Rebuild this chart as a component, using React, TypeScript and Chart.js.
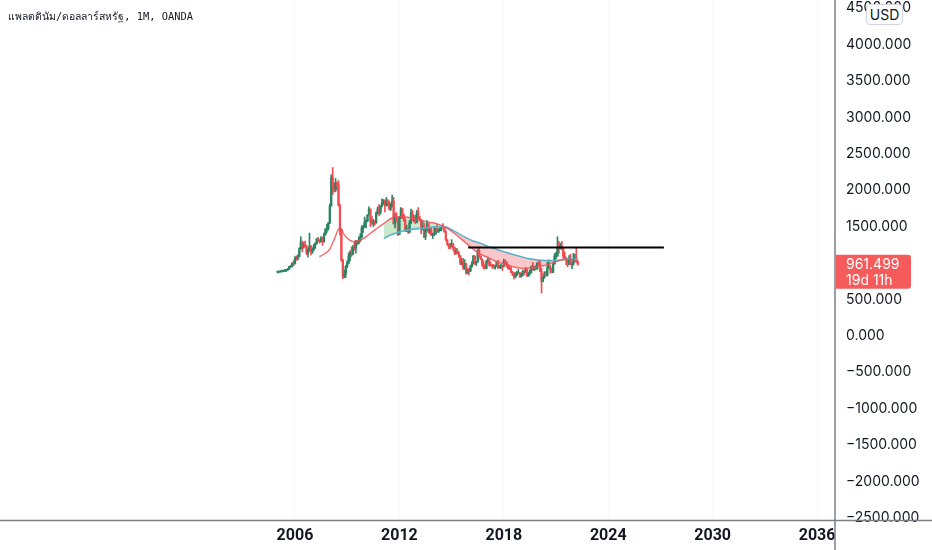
import React, { useEffect, useRef } from 'react';
import { Chart, registerables } from 'chart.js';

Chart.register(...registerables);

// ---------- text ----------
const TITLE = 'แพลตตินัม/ดอลลาร์สหรัฐ, 1M, OANDA';
const CURRENCY = 'USD';
const LAST_PRICE = 961.499;
const COUNTDOWN = '19d 11h';

// ---------- candles: monthly, Jan 2005 .. Apr 2022 ----------
const START_YEAR = 2005;
const FIRST_OPEN = 858;
const closes = [
  860, 864, 868, 868, 868, 882, 885, 898, 930, 932, 974, 965,
  1049, 1046, 1068, 1176, 1270, 1225, 1235, 1206, 1110, 1170, 1208, 1130,
  1165, 1222, 1242, 1307, 1290, 1275, 1320, 1272, 1375, 1442, 1460, 1530,
  1760, 2150, 2030, 1990, 2080, 2055, 1775, 1440, 1020, 800, 830, 930,
  980, 1075, 1125, 1100, 1195, 1185, 1260, 1255, 1290, 1335, 1455, 1470,
  1535, 1560, 1640, 1720, 1545, 1530, 1550, 1530, 1665, 1720, 1680, 1760,
  1800, 1830, 1770, 1830, 1805, 1725, 1785, 1830, 1520, 1610, 1560, 1370,
  1605, 1720, 1640, 1570, 1440, 1455, 1405, 1530, 1665, 1570, 1580, 1535,
  1680, 1590, 1578, 1470, 1480, 1340, 1430, 1520, 1410, 1450, 1360, 1365,
  1380, 1450, 1410, 1425, 1460, 1480, 1460, 1410, 1295, 1240, 1210, 1200,
  1240, 1190, 1135, 1140, 1110, 1080, 980, 1000, 910, 975, 840, 890,
  870, 930, 970, 1070, 975, 995, 1150, 1070, 1030, 960, 920, 905,
  995, 1030, 950, 945, 935, 920, 940, 990, 915, 920, 945, 935,
  1000, 980, 930, 905, 900, 850, 830, 790, 820, 845, 850, 795,
  820, 860, 850, 890, 800, 840, 875, 930, 890, 930, 900, 975,
  960, 860, 730, 785, 840, 810, 915, 930, 885, 850, 965, 1070,
  1075, 1195, 1185, 1205, 1180, 1070, 1050, 1010, 960, 1020, 960, 965,
  1020, 1050, 990, 961.499,
];
const highs = [
  870, 868, 876, 880, 880, 892, 892, 904, 932, 948, 985, 1010,
  1066, 1078, 1090, 1190, 1340, 1280, 1260, 1280, 1220, 1185, 1390, 1220,
  1190, 1240, 1260, 1320, 1330, 1300, 1340, 1330, 1390, 1450, 1510, 1535,
  1790, 2190, 2290, 2080, 2140, 2090, 2110, 1780, 1450, 1030, 880, 945,
  1010, 1118, 1150, 1200, 1220, 1280, 1290, 1290, 1340, 1380, 1490, 1500,
  1610, 1570, 1640, 1750, 1720, 1620, 1580, 1560, 1680, 1750, 1780, 1765,
  1860, 1850, 1845, 1880, 1850, 1830, 1800, 1910, 1880, 1660, 1670, 1580,
  1620, 1740, 1730, 1650, 1600, 1500, 1460, 1565, 1720, 1700, 1635, 1635,
  1700, 1740, 1620, 1580, 1560, 1525, 1455, 1560, 1525, 1465, 1470, 1390,
  1475, 1460, 1510, 1450, 1480, 1490, 1520, 1480, 1420, 1300, 1245, 1250,
  1300, 1250, 1200, 1180, 1175, 1135, 1080, 1045, 1040, 1025, 975, 900,
  905, 950, 1000, 1085, 1080, 1000, 1160, 1190, 1080, 1035, 1010, 950,
  1015, 1045, 1035, 985, 960, 960, 945, 1000, 1015, 945, 960, 945,
  1030, 1025, 1000, 960, 935, 925, 865, 850, 845, 865, 890, 850,
  840, 880, 880, 915, 895, 850, 885, 940, 985, 935, 945, 985,
  1015, 1015, 905, 800, 860, 860, 985, 1020, 950, 905, 980, 1110,
  1125, 1340, 1275, 1250, 1275, 1185, 1125, 1055, 1020, 1080, 1100, 990,
  1110, 1100, 1185, 1010,
];
const lows = [
  842, 845, 852, 852, 860, 862, 862, 878, 890, 916, 924, 940,
  965, 1015, 1020, 1064, 1170, 1130, 1180, 1195, 1095, 1060, 1140, 1090,
  1110, 1150, 1180, 1240, 1270, 1250, 1265, 1220, 1265, 1360, 1400, 1430,
  1520, 1760, 1920, 1950, 1960, 1980, 1760, 1360, 1000, 765, 775, 780,
  915, 965, 1010, 1070, 1090, 1155, 1115, 1225, 1240, 1270, 1325, 1400,
  1470, 1460, 1545, 1635, 1480, 1510, 1480, 1500, 1525, 1650, 1625, 1650,
  1750, 1780, 1680, 1760, 1760, 1705, 1700, 1750, 1510, 1460, 1550, 1355,
  1370, 1590, 1590, 1550, 1410, 1410, 1385, 1390, 1520, 1560, 1550, 1520,
  1530, 1570, 1555, 1380, 1430, 1325, 1300, 1420, 1390, 1380, 1360, 1315,
  1355, 1370, 1405, 1395, 1420, 1420, 1455, 1400, 1285, 1220, 1175, 1175,
  1200, 1160, 1095, 1100, 1100, 1055, 955, 955, 890, 890, 825, 835,
  815, 860, 920, 960, 960, 945, 990, 1060, 1025, 935, 900, 895,
  900, 980, 935, 935, 905, 905, 895, 930, 905, 905, 905, 875,
  925, 960, 920, 895, 885, 845, 805, 760, 775, 805, 835, 780,
  785, 800, 815, 850, 795, 795, 820, 840, 880, 875, 885, 890,
  950, 860, 565, 720, 770, 800, 800, 905, 840, 845, 845, 965,
  1035, 1070, 1115, 1170, 1160, 1035, 1035, 955, 925, 960, 955, 900,
  950, 1000, 990, 950,
];

// ---------- indicator lines ----------
const maYears = [
  2007.4, 2007.7, 2008.0, 2008.25, 2008.45, 2008.6, 2008.8, 2009.1, 2009.4, 2009.8,
  2010.25, 2010.8, 2011.1, 2011.6, 2012.2, 2012.75, 2013.3, 2013.8, 2014.1, 2014.55,
  2015.05, 2015.6, 2016.2, 2016.7, 2017.15, 2017.6, 2018.1, 2018.5, 2019.05, 2019.5,
  2020.0, 2020.5, 2020.9, 2021.4, 2021.8, 2022.25,
];
const fastMA = [
  1065, 1105, 1170, 1300, 1420, 1465, 1380, 1300, 1272, 1295,
  1370, 1470, 1520, 1600, 1615, 1592, 1560, 1535, 1522, 1480,
  1405, 1300, 1175, 1095, 1050, 995, 960, 930, 905, 910,
  930, 955, 990, 1025, 1030, 1005,
];
const slowMA = [
  null, null, null, null, null, null, null, null, null, null,
  null, null, 1318, 1373, 1418, 1441, 1455, 1468, 1478, 1478,
  1430, 1355, 1285, 1245, 1200, 1165, 1125, 1098, 1062, 1035,
  1020, 1012, 1012, 1025, 1038, 1030,
];

// ---------- horizontal trend line ----------
const trendYears = [2015.95, 2027.2];
const trendLevel = 1190;

// ---------- axes ----------
const xTickYears = [2006, 2012, 2018, 2024, 2030, 2036];
const yTickValues = [
  -2500, -2000, -1500, -1000, -500, 0, 500, 1000, 1500, 2000, 2500, 3000, 3500, 4000, 4500,
];
const X_MIN = 1989.05;
const X_MAX = 2037.03;
const Y_MIN = -2550;
const Y_MAX = 4590;

const UP = '#2a8462';
const DOWN = '#f44a52';

function fmt(v: number) {
  return (v < 0 ? '\u2212' : '') + Math.abs(v).toFixed(3);
}

const overlayPlugin = {
  id: 'overlay',
  afterDraw(chart: any) {
    const { ctx, chartArea, scales } = chart;
    ctx.save();
    ctx.strokeStyle = '#7b7e87';
    ctx.lineWidth = 1.5;
    ctx.beginPath();
    ctx.moveTo(0, chartArea.bottom + 0.5);
    ctx.lineTo(chart.width, chartArea.bottom + 0.5);
    ctx.stroke();
    ctx.beginPath();
    ctx.moveTo(chartArea.right, 0);
    ctx.lineTo(chartArea.right, chart.height);
    ctx.stroke();

    const y = scales.y.getPixelForValue(LAST_PRICE);
    const left = chartArea.right + 1;
    const top = y - 9.5;
    const w = 75;
    const h = 34;
    const r = 3;
    ctx.fillStyle = '#f65b5b';
    ctx.beginPath();
    ctx.moveTo(left, top);
    ctx.lineTo(left + w - r, top);
    ctx.quadraticCurveTo(left + w, top, left + w, top + r);
    ctx.lineTo(left + w, top + h - r);
    ctx.quadraticCurveTo(left + w, top + h, left + w - r, top + h);
    ctx.lineTo(left, top + h);
    ctx.closePath();
    ctx.fill();
    ctx.fillStyle = '#ffffff';
    ctx.font = '14px Inter, "DejaVu Sans", sans-serif';
    ctx.textAlign = 'left';
    ctx.textBaseline = 'middle';
    ctx.fillText(LAST_PRICE.toFixed(3), left + 10, y + 1);
    ctx.fillText(COUNTDOWN, left + 10, y + 17);
    ctx.restore();
  },
};

export default function App() {
  const ref = useRef<HTMLCanvasElement | null>(null);

  useEffect(() => {
    if (!ref.current) return;

    const candles = closes.map((c, i) => {
      const o = i === 0 ? FIRST_OPEN : closes[i - 1];
      return {
        x: START_YEAR + i / 12,
        o,
        c,
        h: Math.max(highs[i], o, c),
        l: Math.min(lows[i], o, c),
      };
    });
    const colors = candles.map((k) => (k.c >= k.o ? UP : DOWN));

    const fastPts = maYears.map((x, i) => ({ x, y: fastMA[i] }));
    const slowPts = maYears
      .map((x, i) => ({ x, y: slowMA[i] }))
      .filter((p) => p.y !== null);
    const fillPts = maYears
      .map((x, i) => ({ x, y: fastMA[i], s: slowMA[i] }))
      .filter((p) => p.s !== null)
      .map((p) => ({ x: p.x, y: p.y }));

    const chart = new Chart(ref.current, {
      type: 'bar',
      data: {
        datasets: [
          {
            type: 'line',
            data: fillPts,
            borderWidth: 0,
            borderColor: 'rgba(0,0,0,0)',
            pointRadius: 0,
            cubicInterpolationMode: 'monotone',
            fill: { target: 1, above: 'rgba(76,175,80,0.3)', below: 'rgba(242,54,69,0.28)' },
            order: 10,
          } as any,
          {
            type: 'line',
            data: slowPts,
            borderColor: '#5ab4c8',
            borderWidth: 1.6,
            pointRadius: 0,
            cubicInterpolationMode: 'monotone',
            fill: false,
            order: 3,
          } as any,
          {
            type: 'line',
            data: fastPts,
            borderColor: 'rgba(242,80,85,0.85)',
            borderWidth: 1.4,
            pointRadius: 0,
            cubicInterpolationMode: 'monotone',
            fill: false,
            order: 2,
          } as any,
          {
            type: 'bar',
            data: candles.map((k) => ({ x: k.x, y: [k.l, k.h] })),
            backgroundColor: colors,
            borderWidth: 0,
            barThickness: 1,
            grouped: false,
            order: 6,
          } as any,
          {
            type: 'bar',
            data: candles.map((k) => ({ x: k.x, y: [k.o, k.c] })),
            backgroundColor: colors,
            borderWidth: 0,
            barThickness: 1.6,
            grouped: false,
            order: 5,
          } as any,
          {
            type: 'line',
            data: trendYears.map((x) => ({ x, y: trendLevel })),
            borderColor: '#000000',
            borderWidth: 2,
            pointRadius: 0,
            fill: false,
            order: 1,
          } as any,
        ],
      },
      options: {
        responsive: false,
        animation: false,
        events: [],
        layout: { padding: 0 },
        plugins: {
          legend: { display: false },
          tooltip: { enabled: false },
          title: { display: false },
        },
        scales: {
          x: {
            type: 'linear',
            position: 'bottom',
            min: X_MIN,
            max: X_MAX,
            offset: false,
            afterBuildTicks: (s: any) => {
              s.ticks = xTickYears.map((v) => ({ value: v }));
            },
            afterFit: (s: any) => {
              s.height = 30;
              s.paddingLeft = 0;
              s.paddingRight = 0;
            },
            ticks: {
              autoSkip: false,
              maxRotation: 0,
              padding: 6,
              color: '#131722',
              font: { family: 'Roboto, "DejaVu Sans", sans-serif', size: 16, weight: 'bold' },
              callback: (v: any) => String(v),
            },
            grid: { color: '#f7f8fa', drawTicks: false, lineWidth: 1, offset: false },
            border: { display: false },
          },
          y: {
            type: 'linear',
            position: 'right',
            min: Y_MIN,
            max: Y_MAX,
            afterBuildTicks: (s: any) => {
              s.ticks = yTickValues.map((v) => ({ value: v }));
            },
            afterFit: (s: any) => {
              s.width = 97;
              s.paddingTop = 0;
              s.paddingBottom = 0;
            },
            ticks: {
              autoSkip: false,
              padding: 11,
              labelOffset: 1.5,
              color: '#131722',
              font: { family: 'Inter, "DejaVu Sans", sans-serif', size: 14 },
              callback: (v: any) => fmt(Number(v)),
            },
            grid: { display: false, drawTicks: false },
            border: { display: false },
          },
        },
      } as any,
      plugins: [overlayPlugin],
    });

    return () => chart.destroy();
  }, []);

  return (
    <div
      style={{
        position: 'fixed',
        left: 0,
        top: 0,
        width: 932,
        height: 550,
        background: '#ffffff',
        overflow: 'hidden',
      }}
    >
      <canvas ref={ref} width={932} height={550} style={{ width: 932, height: 550, display: 'block' }} />
      <div
        style={{
          position: 'absolute',
          left: 8,
          top: 9,
          fontFamily: '"DejaVu Sans Mono", "Noto Sans", monospace',
          fontSize: 10.4,
          lineHeight: '14px',
          color: '#131722',
          whiteSpace: 'nowrap',
        }}
      >
        {TITLE}
      </div>
      <div
        style={{
          position: 'absolute',
          left: 866,
          top: 4,
          width: 37,
          height: 21,
          boxSizing: 'border-box',
          border: '1px solid #d1d4dc',
          borderRadius: 4,
          background: '#ffffff',
          fontFamily: 'Inter, "DejaVu Sans", sans-serif',
          fontSize: 14,
          lineHeight: '19px',
          textAlign: 'center',
          color: '#131722',
        }}
      >
        {CURRENCY}
      </div>
    </div>
  );
}
